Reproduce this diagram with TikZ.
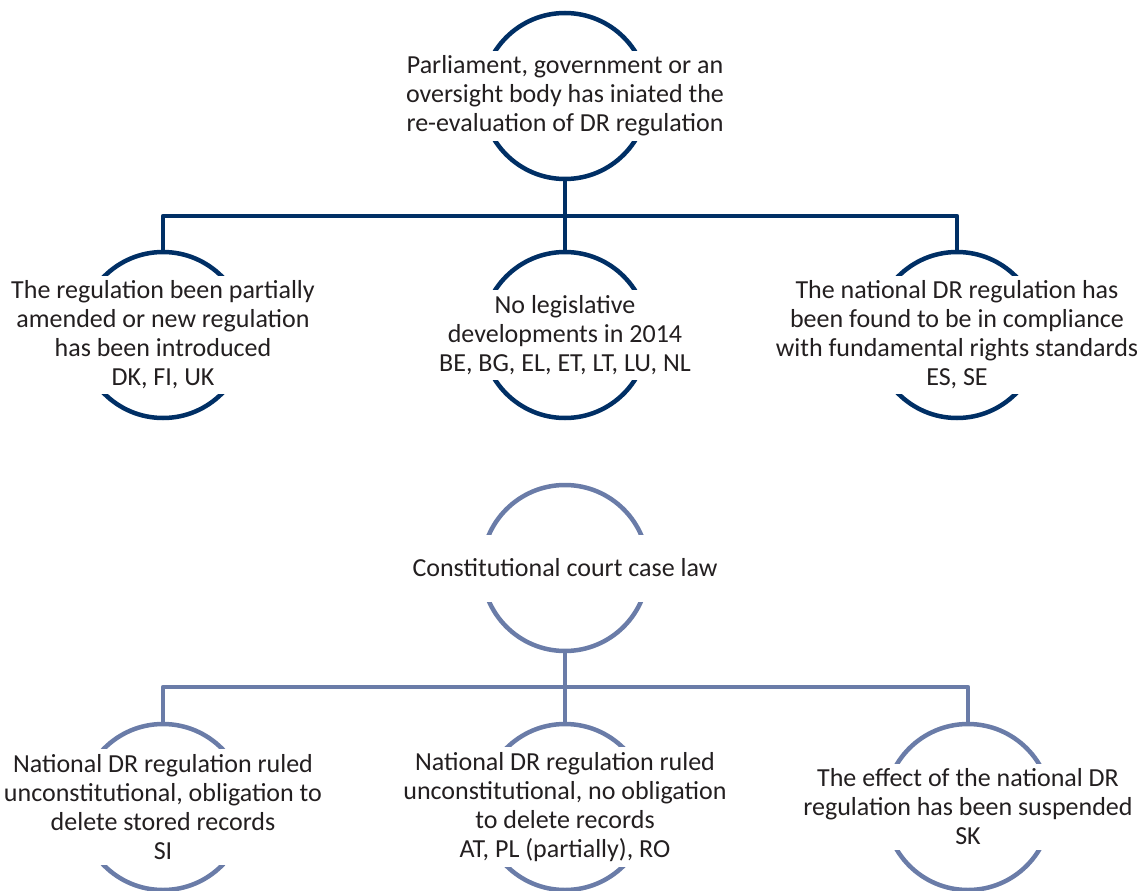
\documentclass[tikz,border=0pt]{standalone}
\usepackage{fontspec}
\setmainfont{Carlito}
\definecolor{navy}{HTML}{002F65}
\definecolor{slate}{HTML}{6A7CA8}
\definecolor{textgray}{HTML}{231F20}
\tikzset{
  ring/.style={circle, draw=#1, line width=4.5pt, minimum size=166pt, inner sep=0pt},
  box/.style={fill=white, align=center, text=textgray, inner xsep=2pt, inner ysep=5pt,
    minimum width=182pt, font=\fontsize{26}{29}\selectfont},
  link/.style={draw=#1, line width=4.5pt, line join=round}
}
\begin{document}
\begin{tikzpicture}[x=1pt, y=-1pt]
  \useasboundingbox (0,0) rectangle (1144,891);

  % Parliament / government
  \node [ring=navy] (parlc) at (565,96) {};
  \node [box] (parl) at (565,96) {Parliament, government or an\\oversight body has iniated the\\re-evaluation of DR regulation};

  % row 1 outcomes
  \node [ring=navy] (amendc) at (163,335) {};
  \node [box] (amend) at (163,335) {The regulation been partially\\amended or new regulation\\has been introduced\\DK, FI, UK};
  \node [ring=navy] (nolegc) at (565,335) {};
  \node [box] (noleg) at (565,335) {No legislative\\developments in 2014\\BE, BG, EL, ET, LT, LU, NL};
  \node [ring=navy] (complc) at (957,335) {};
  \node [box] (compl) at (957,335) {The national DR regulation has\\been found to be in compliance\\with fundamental rights standards\\ES, SE};

  % connectors (top)
  \coordinate (bara) at (565,216);
  \draw [link=navy] (parlc.south) -- (bara);
  \draw [link=navy] (amendc.north) |- (bara) -| (complc.north);
  \draw [link=navy] (bara) -- (nolegc.north);

  % Constitutional court
  \node [ring=slate] (courtc) at (565,568) {};
  \node [box, minimum height=67pt] (court) at (565,568) {Constitutional court case law};

  % row 2 outcomes
  \node [ring=slate] (delc) at (163,807) {};
  \node [box] (del) at (163,807) {National DR regulation ruled\\unconstitutional, obligation to\\delete stored records\\SI};
  \node [ring=slate] (nodelc) at (565,807) {};
  \node [box] (nodel) at (565,807) {National DR regulation ruled\\unconstitutional, no obligation\\to delete records\\AT, PL (partially), RO};
  \node [ring=slate] (suspc) at (968,807) {};
  \node [box] (susp) at (968,807) {The effect of the national DR\\regulation has been suspended\\SK};

  % connectors (bottom)
  \coordinate (barb) at (565,687);
  \draw [link=slate] (courtc.south) -- (barb);
  \draw [link=slate] (delc.north) |- (barb) -| (suspc.north);
  \draw [link=slate] (barb) -- (nodelc.north);

\end{tikzpicture}
\end{document}
